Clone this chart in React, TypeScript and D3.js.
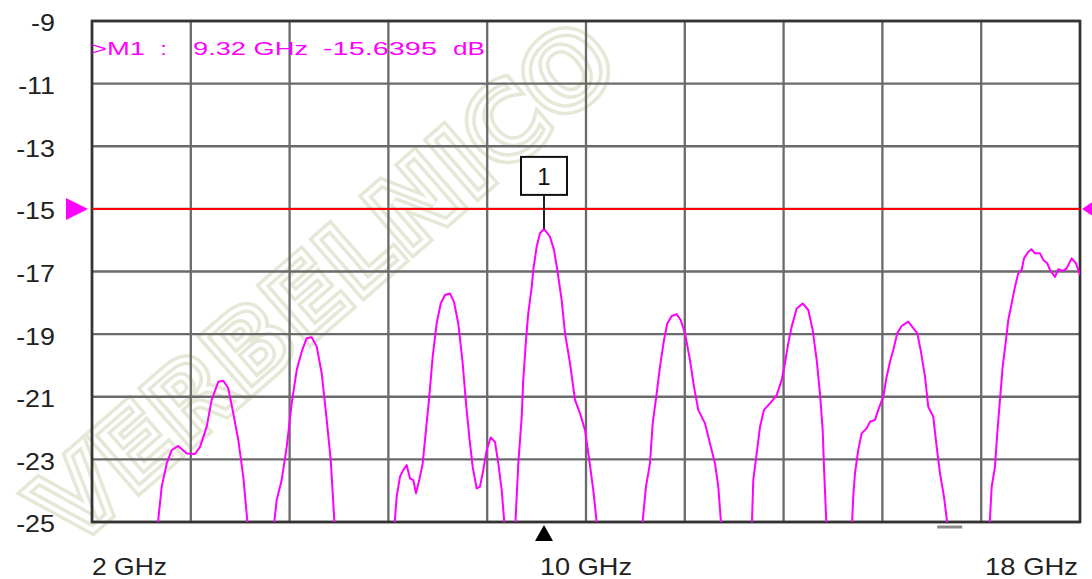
import { line, range, scaleLinear } from "d3";
import type { ReactElement } from "react";

// trace, one lobe per row (values below -25 are off-scale)
const lobeGHz: ReadonlyArray<ReadonlyArray<number>> = [
  [3.053, 3.129, 3.21, 3.291, 3.398, 3.534, 3.668, 3.749, 3.857, 3.938, 4.045, 4.126, 4.207, 4.288, 4.369, 4.45, 4.531],
  [4.936, 4.991, 5.072, 5.153, 5.234, 5.315, 5.396, 5.477, 5.558, 5.639, 5.72, 5.801, 5.866, 5.935],
  [6.891, 6.934, 6.988, 7.041, 7.096, 7.15, 7.203, 7.247, 7.3, 7.355, 7.409, 7.462, 7.517, 7.582, 7.647, 7.716, 7.797, 7.862, 7.932, 8.003, 8.057, 8.11, 8.165, 8.23, 8.283, 8.337, 8.392, 8.457, 8.526, 8.58, 8.635, 8.688],
  [8.85, 8.904, 8.959, 8.984, 9.028, 9.065, 9.121, 9.146, 9.201, 9.255, 9.32, 9.417, 9.482, 9.535, 9.606, 9.66, 9.741, 9.822, 9.903, 9.984, 10.053, 10.118, 10.189],
  [10.902, 10.971, 11.036, 11.08, 11.145, 11.198, 11.263, 11.316, 11.388, 11.469, 11.533, 11.603, 11.684, 11.749, 11.818, 11.927, 12.008, 12.089, 12.142, 12.197],
  [12.683, 12.709, 12.764, 12.818, 12.882, 12.98, 13.088, 13.169, 13.222, 13.276, 13.331, 13.412, 13.509, 13.6, 13.671, 13.736, 13.789, 13.833, 13.854, 13.898],
  [14.302, 14.328, 14.356, 14.409, 14.464, 14.545, 14.599, 14.68, 14.733, 14.814, 14.869, 14.923, 14.976, 15.041, 15.112, 15.219, 15.3, 15.365, 15.42, 15.49, 15.543, 15.624, 15.679, 15.733, 15.797, 15.867],
  [16.531, 16.57, 16.623, 16.66, 16.704, 16.748, 16.801, 16.839, 16.893, 16.947, 17.0, 17.055, 17.093, 17.163, 17.217, 17.271, 17.352, 17.405, 17.47, 17.514, 17.595, 17.648, 17.729, 17.784, 17.865, 17.935, 18.0],
];

const lobeDB: ReadonlyArray<ReadonlyArray<number>> = [
  [-25.3, -23.87, -23.13, -22.7, -22.57, -22.81, -22.83, -22.6, -21.96, -21.1, -20.52, -20.49, -20.73, -21.53, -22.38, -23.55, -25.3],
  [-25.3, -24.3, -23.66, -22.6, -21.21, -20.15, -19.56, -19.13, -19.1, -19.4, -20.25, -21.74, -23.02, -25.3],
  [-25.3, -24.19, -23.55, -23.34, -23.18, -23.61, -23.66, -24.08, -23.66, -23.13, -22.06, -21.0, -19.72, -18.66, -18.02, -17.75, -17.7, -17.97, -18.66, -19.93, -21.21, -22.28, -23.24, -23.93, -23.87, -23.34, -22.7, -22.3, -22.44, -23.13, -23.98, -25.3],
  [-25.3, -23.13, -21.64, -20.47, -19.19, -18.34, -17.49, -16.95, -16.21, -15.78, -15.64, -15.89, -16.31, -16.95, -17.91, -18.97, -19.93, -21.1, -21.53, -22.06, -23.02, -23.98, -25.3],
  [-25.3, -23.87, -23.13, -21.85, -20.89, -20.04, -19.19, -18.66, -18.42, -18.36, -18.55, -18.97, -19.83, -20.68, -21.42, -21.85, -22.49, -23.13, -23.87, -25.3],
  [-25.3, -23.66, -22.81, -21.96, -21.42, -21.21, -20.95, -20.47, -19.93, -19.29, -18.76, -18.18, -18.02, -18.23, -18.87, -19.83, -20.89, -22.06, -23.24, -25.3],
  [-25.3, -24.19, -23.45, -22.7, -22.17, -22.01, -21.8, -21.74, -21.42, -21.0, -20.36, -19.88, -19.51, -18.97, -18.74, -18.6, -18.81, -18.97, -19.51, -20.36, -21.32, -21.64, -22.6, -23.45, -24.19, -25.3],
  [-25.3, -23.87, -23.24, -22.17, -21.1, -20.04, -19.19, -18.55, -18.02, -17.49, -17.06, -16.95, -16.58, -16.37, -16.29, -16.42, -16.42, -16.63, -16.74, -16.95, -17.17, -16.93, -16.98, -16.9, -16.58, -16.74, -17.11],
];

const yTickValues = [-9, -11, -13, -15, -17, -19, -21, -23, -25];
const yTickLabels = ["-9", "-11", "-13", "-15", "-17", "-19", "-21", "-23", "-25"];
const xLabelValues = [2, 10, 18];
const xLabelTexts = ["2 GHz", "10 GHz", "18 GHz"];

const limitDB = -15;
const markerGHz = 9.32;
const markerDB = -15.6395;
const markerText = [">M1", ":", "9.32 GHz", "-15.6395", "dB"];
const lowMarkerGHz = 15.89;

const width = 1092;
const height = 579;
const plot = { left: 92, right: 1080, top: 21, bottom: 522 } as const;
const font = "'Liberation Sans', Arial, sans-serif";

const magenta = "#ff00ff";

export default function App(): ReactElement {
  const x = scaleLinear().domain([2, 18]).range([plot.left, plot.right]);
  const y = scaleLinear().domain([-9, -25]).range([plot.top, plot.bottom]);

  const points: Array<[number, number]> = [];
  lobeGHz.forEach((row, i) => row.forEach((f, j) => points.push([f, lobeDB[i][j]])));

  const tracePath = line<[number, number]>()
    .x((d) => x(d[0]))
    .y((d) => y(d[1]))(points) ?? "";

  const xGrid = range(0, 11).map((i) => 2 + i * 1.6);

  const mx = x(markerGHz);
  const my = y(markerDB);
  const ly = y(limitDB);

  // marker readout pieces: start x and width as laid out on screen
  const readoutX = [91, 160, 193, 323, 453];
  const readoutW = [54, 7, 115, 114, 32];
  const xLabelAnchor = ["start", "middle", "end"] as const;
  const xLabelWidth = [75, 92, 93];

  return (
    <div style={{ position: "absolute", left: 0, top: 0 }}>
      <svg width={width} height={height} viewBox={`0 0 ${width} ${height}`} style={{ display: "block", background: "#fff" }}>
        <defs>
          <clipPath id="plot-clip">
            <rect x={plot.left} y={plot.top} width={plot.right - plot.left} height={plot.bottom - plot.top} />
          </clipPath>
        </defs>

        {/* faint watermark behind everything */}
        <g transform="translate(72,548) rotate(-41)" fontFamily="'DejaVu Sans', sans-serif" fontWeight="bold" fontSize={100} fill="none">
          <text stroke="#e5e8d6" strokeWidth={11} letterSpacing={2}>VERBELNICO</text>
          <text stroke="#ffffff" strokeWidth={4} letterSpacing={2}>VERBELNICO</text>
        </g>

        {yTickValues.map((v) => (
          <line key={`h-${v}`} x1={plot.left} x2={plot.right} y1={y(v)} y2={y(v)} stroke="#6a6a6a" strokeWidth={2.3} />
        ))}
        {xGrid.map((v) => (
          <line key={`v-${v}`} x1={x(v)} x2={x(v)} y1={plot.top} y2={plot.bottom} stroke="#6a6a6a" strokeWidth={2.3} />
        ))}
        <rect
          x={plot.left}
          y={plot.top}
          width={plot.right - plot.left}
          height={plot.bottom - plot.top}
          fill="none"
          stroke="#333"
          strokeWidth={2.6}
        />

        {yTickValues.map((v, i) => (
          <text
            key={`yl-${v}`}
            x={55}
            y={y(v) + 10.5}
            textAnchor="end"
            fontFamily={font}
            fontSize={24}
            fill="#222"
            transform={`translate(55,0) scale(1.12,1) translate(-55,0)`}
          >
            {yTickLabels[i]}
          </text>
        ))}

        {xLabelValues.map((v, i) => (
          <text
            key={`xl-${v}`}
            x={i === 2 ? x(v) - 2 : x(v)}
            y={575}
            textAnchor={xLabelAnchor[i]}
            fontFamily={font}
            fontSize={24}
            fill="#222"
            textLength={xLabelWidth[i]}
            lengthAdjust="spacingAndGlyphs"
          >
            {xLabelTexts[i]}
          </text>
        ))}

        {/* limit line with its end arrows */}
        <line x1={plot.left} x2={plot.right} y1={ly} y2={ly} stroke="#ff0000" strokeWidth={2} />
        <path d={`M${plot.left - 4},${ly} L${plot.left - 26},${ly - 11} L${plot.left - 26},${ly + 11} Z`} fill={magenta} />
        <path d={`M${plot.right + 2},${ly} L${plot.right + 14},${ly - 8} L${plot.right + 14},${ly + 8} Z`} fill={magenta} />

        <g clipPath="url(#plot-clip)">
          <path d={tracePath} fill="none" stroke={magenta} strokeWidth={2} strokeLinejoin="round" />
        </g>

        {/* marker 1 */}
        <line x1={mx} x2={mx} y1={my - 34} y2={my} stroke="#222" strokeWidth={2} />
        <rect x={mx - 23} y={my - 72} width={46} height={38} fill="#fff" stroke="#111" strokeWidth={2} />
        <text x={mx} y={my - 44} textAnchor="middle" fontFamily={font} fontSize={24} fill="#111">
          1
        </text>
        <path d={`M${mx},${plot.bottom + 3} L${mx - 9},${plot.bottom + 19} L${mx + 9},${plot.bottom + 19} Z`} fill="#000" />

        <line x1={x(lowMarkerGHz) - 12.5} x2={x(lowMarkerGHz) + 12.5} y1={plot.bottom + 5} y2={plot.bottom + 5} stroke="#888" strokeWidth={3} />

        {markerText.map((t, i) => (
          <text
            key={`mt-${i}`}
            x={readoutX[i]}
            y={55}
            fontFamily={font}
            fontSize={19}
            fill={magenta}
            textLength={readoutW[i]}
            lengthAdjust="spacingAndGlyphs"
          >
            {t}
          </text>
        ))}
      </svg>
    </div>
  );
}
